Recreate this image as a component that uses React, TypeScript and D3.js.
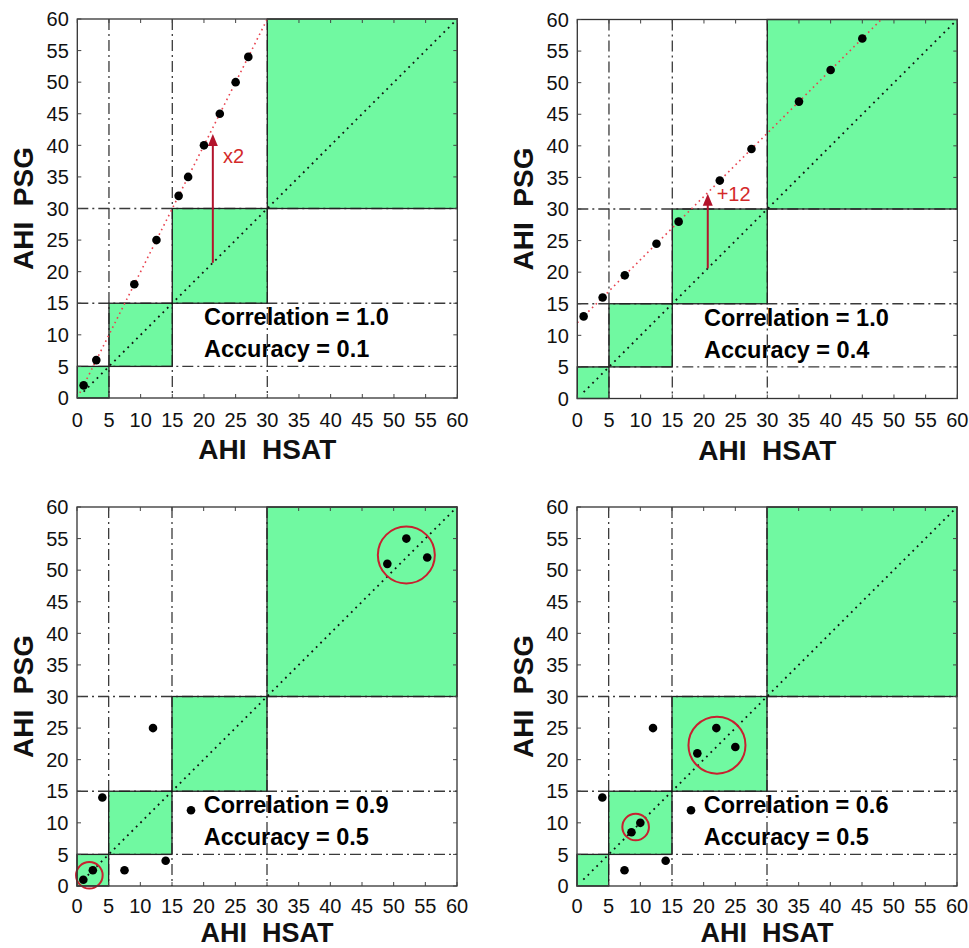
import React from "react";
import * as d3 from "d3";

// ---------- data ----------
const TICKS = [0, 5, 10, 15, 20, 25, 30, 35, 40, 45, 50, 55, 60];
const CUTOFFS = [0, 5, 15, 30, 60];
const DIAG = [1, 60];

const HSAT_A = [1, 3, 9, 12.5, 16, 17.5, 20, 22.5, 25, 27];
const PSG_A = [2, 6, 18, 25, 32, 35, 40, 45, 50, 54];
const HSAT_B = [1, 4, 7.5, 12.5, 16, 22.5, 27.5, 35, 40, 45];
const PSG_B = [13, 16, 19.5, 24.5, 28, 34.5, 39.5, 47, 52, 57];
const HSAT_C = [1, 2.5, 7.5, 14, 4, 12, 18, 49, 52, 55.3];
const PSG_C = [1, 2.5, 2.5, 4, 14, 25, 12, 51, 55, 52];
const HSAT_D = [7.5, 14, 4, 12, 8.6, 10, 18, 19, 22, 25];
const PSG_D = [2.5, 4, 14, 25, 8.5, 10, 12, 21, 25, 22];

// red trend lines (x range, y range)
const FIT_A_X = [0.4, 30];
const FIT_A_Y = [0.8, 60];
const FIT_B_X = [0, 48];
const FIT_B_Y = [12, 60];

// arrows: x, from, to ; label text and position
const ARROW_A = [21.4, 21.4, 41.8];
const ARROW_B = [20.6, 20.6, 32.4];
const ARROW_LABELS = ["x2", "+12"];
const ARROW_LABEL_X = [23, 22];
const ARROW_LABEL_Y = [37.2, 31.3];

// highlight circles: cx, cy, r (data units)
const CIRCLES_C = [[1.95, 1.7, 2.1], [52, 52.4, 4.5]];
const CIRCLES_D = [[9.26, 9.34, 2.1], [22.1, 22.3, 4.5]];

const CORR = ["1.0", "1.0", "0.9", "0.6"];
const ACC = ["0.1", "0.4", "0.5", "0.5"];

// ---------- styles ----------
const FONT = "'Liberation Sans', Arial, Helvetica, sans-serif";
const GREEN = "rgb(112,249,161)";
const AX = "#333";
const RED_LINE = "#e8434f";
const ARROW_RED = "#b3142c";
const LABEL_RED = "#d42a2a";
const CIRCLE_RED = "#c8202f";

const W = 380;
const H = 379;

type PanelProps = {
  ox: number;
  oy: number;
  hsat: number[];
  psg: number[];
  idx: number;
  tickOffset: number;
  xTitleOffset: number;
  xTitleSize: number;
  fitX?: number[];
  fitY?: number[];
  arrow?: number[];
  circles?: number[][];
};

function Panel({ ox, oy, hsat, psg, idx, tickOffset, xTitleOffset, xTitleSize, fitX, fitY, arrow, circles }: PanelProps) {
  const x = d3.scaleLinear().domain([0, 60]).range([0, W]);
  const y = d3.scaleLinear().domain([0, 60]).range([H, 0]);
  const line = d3.line<[number, number]>().x((d) => x(d[0])).y((d) => y(d[1]));
  const boxes = d3.range(CUTOFFS.length - 1).map((i) => [CUTOFFS[i], CUTOFFS[i + 1]]);
  const guides = CUTOFFS.slice(1, 4);

  return (
    <g transform={`translate(${ox},${oy})`}>
      <rect x={0} y={0} width={W} height={H} fill="#fff" />
      {boxes.map(([a, b], i) => (
        <rect key={"g" + i} x={x(a)} y={y(b)} width={x(b) - x(a)} height={y(a) - y(b)} fill={GREEN} />
      ))}
      {guides.map((v) => (
        <g key={"dd" + v} stroke="#3a3a3a" strokeWidth={1.3} strokeDasharray="11 4 2 4">
          <line x1={x(v)} x2={x(v)} y1={0} y2={H} />
          <line x1={0} x2={W} y1={y(v)} y2={y(v)} />
        </g>
      ))}
      {boxes.map(([a, b], i) => (
        <rect key={"b" + i} x={x(a)} y={y(b)} width={x(b) - x(a)} height={y(a) - y(b)} fill="none" stroke="#222" strokeWidth={1.3} />
      ))}
      <path
        d={line([[DIAG[0], DIAG[0]], [DIAG[1], DIAG[1]]]) || ""}
        stroke="#111"
        strokeWidth={1.8}
        strokeDasharray="1.8 4.4"
        fill="none"
      />
      {fitX && fitY && (
        <path
          d={line([[fitX[0], fitY[0]], [fitX[1], fitY[1]]]) || ""}
          stroke={RED_LINE}
          strokeWidth={1.6}
          strokeDasharray="1.6 3.6"
          fill="none"
        />
      )}
      {arrow && (
        <g>
          <line x1={x(arrow[0])} x2={x(arrow[0])} y1={y(arrow[1])} y2={y(arrow[2]) + 9} stroke={ARROW_RED} strokeWidth={2} />
          <path
            d={`M${x(arrow[0])},${y(arrow[2])} L${x(arrow[0]) - 5},${y(arrow[2]) + 12} L${x(arrow[0]) + 5},${y(arrow[2]) + 12} Z`}
            fill={ARROW_RED}
          />
          <text
            x={x(ARROW_LABEL_X[idx])}
            y={y(ARROW_LABEL_Y[idx])}
            fill={LABEL_RED}
            fontFamily={FONT}
            fontSize={20}
          >
            {ARROW_LABELS[idx]}
          </text>
        </g>
      )}
      {hsat.map((h, i) => (
        <circle key={"p" + i} cx={x(h)} cy={y(psg[i])} r={4.3} fill="#000" />
      ))}
      {circles &&
        circles.map((c, i) => (
          <circle
            key={"c" + i}
            cx={x(c[0])}
            cy={y(c[1])}
            r={x(c[2]) - x(0)}
            fill="none"
            stroke={CIRCLE_RED}
            strokeWidth={2}
          />
        ))}
      <text x={x(20)} y={H - 73} fontFamily={FONT} fontWeight="bold" fontSize={23.5} fill="#000">
        {`Correlation = ${CORR[idx]}`}
      </text>
      <text x={x(20)} y={H - 41} fontFamily={FONT} fontWeight="bold" fontSize={23.5} fill="#000">
        {`Accuracy = ${ACC[idx]}`}
      </text>
      <rect x={0} y={0} width={W} height={H} fill="none" stroke={AX} strokeWidth={1.3} />
      {TICKS.map((t) => (
        <g key={"t" + t} stroke="#444" strokeWidth={1}>
          <line x1={x(t)} x2={x(t)} y1={H} y2={H - 4} />
          <line x1={x(t)} x2={x(t)} y1={0} y2={4} />
          <line x1={0} x2={4} y1={y(t)} y2={y(t)} />
          <line x1={W} x2={W - 4} y1={y(t)} y2={y(t)} />
        </g>
      ))}
      {TICKS.map((t) => (
        <text key={"xl" + t} x={x(t)} y={H + tickOffset} textAnchor="middle" fontFamily={FONT} fontSize={20} fill="#111">
          {t}
        </text>
      ))}
      {TICKS.map((t) => (
        <text key={"yl" + t} x={-8.5} y={y(t)} dy="0.36em" textAnchor="end" fontFamily={FONT} fontSize={20} fill="#111">
          {t}
        </text>
      ))}
      <text
        x={W / 2}
        y={H + xTitleOffset}
        textAnchor="middle"
        fontFamily={FONT}
        fontWeight="bold"
        fontSize={xTitleSize}
        fill="#111"
        style={{ whiteSpace: "pre" }}
      >
        {"AHI  HSAT"}
      </text>
      <text
        transform={`translate(-44,${H / 2}) rotate(-90)`}
        textAnchor="middle"
        fontFamily={FONT}
        fontWeight="bold"
        fontSize={28}
        fill="#111"
        style={{ whiteSpace: "pre" }}
      >
        {"AHI  PSG"}
      </text>
    </g>
  );
}

export default function App() {
  return (
    <svg
      width={969}
      height={948}
      style={{ position: "absolute", left: 0, top: 0, background: "#fff" }}
    >
      <rect width={969} height={948} fill="#fff" />
      <Panel ox={77.3} oy={19} hsat={HSAT_A} psg={PSG_A} idx={0} tickOffset={28.5} xTitleOffset={61} xTitleSize={28} fitX={FIT_A_X} fitY={FIT_A_Y} arrow={ARROW_A} />
      <Panel ox={577.3} oy={19.5} hsat={HSAT_B} psg={PSG_B} idx={1} tickOffset={28.5} xTitleOffset={61} xTitleSize={28} fitX={FIT_B_X} fitY={FIT_B_Y} arrow={ARROW_B} />
      <Panel ox={77} oy={507} hsat={HSAT_C} psg={PSG_C} idx={2} tickOffset={27} xTitleOffset={56} xTitleSize={27} circles={CIRCLES_C} />
      <Panel ox={577} oy={507} hsat={HSAT_D} psg={PSG_D} idx={3} tickOffset={27} xTitleOffset={56} xTitleSize={27} circles={CIRCLES_D} />
    </svg>
  );
}
